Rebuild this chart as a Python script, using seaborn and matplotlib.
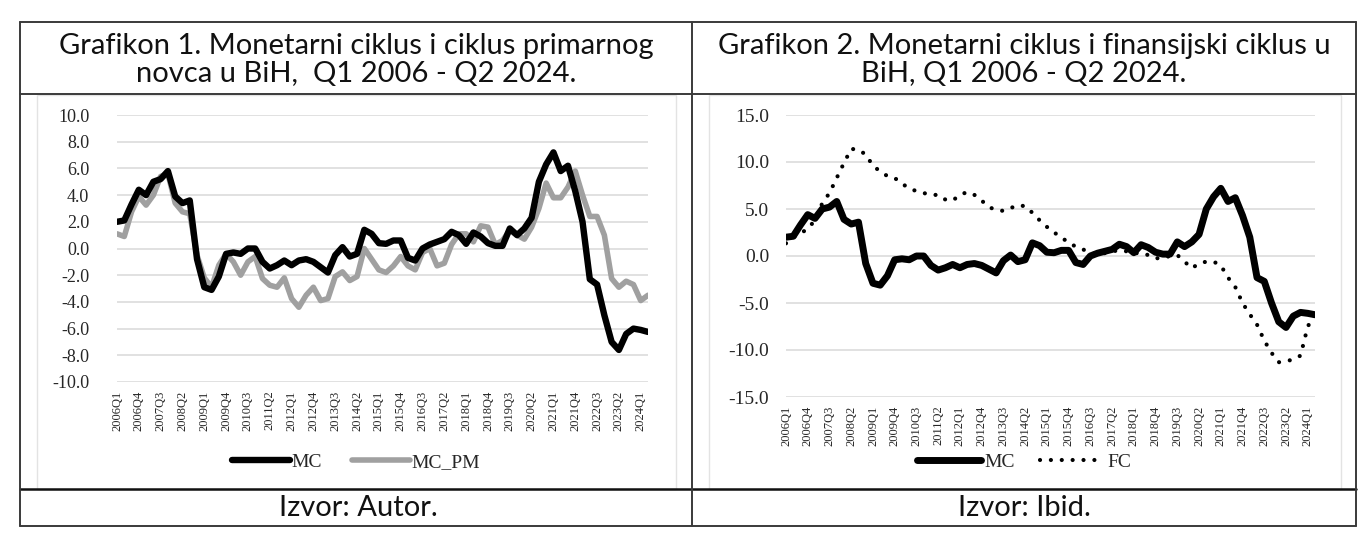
import matplotlib
matplotlib.use("Agg")
import matplotlib.pyplot as plt
import seaborn as sns
import numpy as np
import pandas as pd
from matplotlib.lines import Line2D
from matplotlib.patches import Rectangle

# ---------------- data ----------------
quarters = [f"{y}Q{q}" for y in range(2006, 2025) for q in range(1, 5)][:74]

mc = [2.0, 2.1, 3.3, 4.4, 4.0, 5.0, 5.2, 5.8, 3.9, 3.4, 3.6,
      -0.8, -2.9, -3.1, -2.1, -0.4, -0.3, -0.4, 0.0, 0.0,
      -1.0, -1.5, -1.25, -0.9, -1.25, -0.9, -0.8, -1.0, -1.4, -1.8,
      -0.5, 0.1, -0.6, -0.4, 1.4, 1.1, 0.4, 0.35, 0.6, 0.6,
      -0.7, -0.9, 0.0, 0.3, 0.5, 0.7, 1.25, 1.0, 0.35, 1.2,
      0.9, 0.4, 0.2, 0.2, 1.5, 1.0, 1.5, 2.3, 5.0, 6.3,
      7.2, 5.8, 6.2, 4.3, 2.0, -2.3, -2.7, -5.0, -7.0, -7.6,
      -6.4, -6.0, -6.1, -6.25]

mc_pm = [1.1, 0.9, 2.75, 3.9, 3.25, 4.0, 5.4, 5.6, 3.4, 2.75, 2.6,
         -0.5, -2.2, -2.9, -1.25, -0.4, -1.0, -2.0, -1.0, -0.6,
         -2.25, -2.75, -2.9, -2.2, -3.75, -4.4, -3.5, -2.9, -3.9, -3.75,
         -2.1, -1.75, -2.4, -2.1, 0.0, -0.8, -1.6, -1.8, -1.3, -0.6,
         -1.3, -1.6, -0.3, 0.0, -1.3, -1.1, 0.3, 1.1, 1.1, 0.5,
         1.7, 1.6, 0.3, 0.6, 1.35, 1.0, 0.7, 1.6, 3.0, 4.9,
         3.8, 3.8, 4.6, 5.8, 4.0, 2.4, 2.4, 1.0, -2.25, -2.9,
         -2.45, -2.7, -3.9, -3.5]

fc = [1.35, 2.0, 2.4, 2.9, 3.8, 5.6, 6.7, 8.3, 9.9, 11.4, 11.3,
      10.8, 9.6, 9.0, 8.5, 8.3, 7.7, 7.2, 6.9, 6.7,
      6.5, 6.5, 6.0, 5.9, 6.5, 6.8, 6.5, 5.9, 5.2, 4.9,
      4.8, 5.1, 5.4, 5.3, 4.6, 3.8, 3.1, 2.5, 2.0, 1.4,
      1.0, 0.7, 0.3, 0.2, 0.3, 0.5, 0.6, 0.5, 0.3, 0.3,
      0.1, -0.25, -0.2, 0.0, 0.1, -0.6, -1.3, -0.8, -0.6, -0.6,
      -1.0, -2.3, -3.3, -5.0, -6.2, -7.3, -9.0, -10.3, -11.3, -11.2,
      -11.0, -10.6, -7.5, -6.2]

tick_idx = list(range(0, 74, 3))
tick_labels = [quarters[i] for i in tick_idx]

left_title = "Grafikon 1. Monetarni ciklus i ciklus primarnog\nnovca u BiH,  Q1 2006 - Q2 2024."
right_title = "Grafikon 2. Monetarni ciklus i finansijski ciklus u\nBiH, Q1 2006 - Q2 2024."
left_source = "Izvor: Autor."
right_source = "Izvor: Ibid."

df = pd.DataFrame({"idx": np.arange(74), "MC": mc, "MC_PM": mc_pm, "FC": fc})

# ---------------- figure ----------------
sns.set_theme(style="white")
plt.rcParams["font.family"] = ["Liberation Serif", "DejaVu Serif"]

W, H = 1372, 541
fig = plt.figure(figsize=(W / 100, H / 100), dpi=100)
fig.patch.set_facecolor("white")


def fx(px):
    return px / W


def fy(py):
    return 1 - py / H


# inner chart frames (light grey)
for (x0, x1) in [(37, 676), (709, 1341)]:
    fig.add_artist(Rectangle((fx(x0), fy(489)), fx(x1) - fx(x0), fy(95) - fy(489),
                             transform=fig.transFigure, fill=False,
                             edgecolor="#e3e3e3", linewidth=1.0))

# table lines
lc = "#3a3a3a"
def hline(y, x0=20, x1=1356, lw=1.4, c=lc):
    fig.add_artist(Line2D([fx(x0), fx(x1)], [fy(y), fy(y)], transform=fig.transFigure,
                          color=c, linewidth=lw))
def vline(x, y0=22, y1=526, lw=1.4, c=lc):
    fig.add_artist(Line2D([fx(x), fx(x)], [fy(y0), fy(y1)], transform=fig.transFigure,
                          color=c, linewidth=lw))

hline(22)
hline(94)
hline(489, lw=1.8, c="#111111")
hline(526)
vline(20)
vline(1356)
vline(692)

# titles and sources
tfont = dict(family=["Lato", "DejaVu Sans"], fontsize=21, color="#111111",
             ha="center", va="center", linespacing=1.05)
fig.text(fx(356), fy(60), left_title, **tfont)
fig.text(fx(1024), fy(60), right_title, **tfont)
fig.text(fx(358), fy(508), left_source, **tfont)
fig.text(fx(1024), fy(508), right_source, **tfont)


def style_axes(ax, ylim, yticks, yfs):
    ax.set_xlim(0, 73)
    ax.set_ylim(*ylim)
    ax.set_yticks(yticks)
    ax.set_yticklabels([f"{v:.1f}" for v in yticks], fontsize=yfs, color="#262626")
    ax.set_xticks(tick_idx)
    ax.set_xticklabels(tick_labels, rotation=90, fontsize=9, color="#262626")
    ax.tick_params(axis="both", length=0)
    ax.tick_params(axis="x", pad=6)
    ax.grid(axis="y", color="#d9d9d9", linewidth=1.1)
    ax.grid(axis="x", visible=False)
    for s in ax.spines.values():
        s.set_visible(False)
    ax.set_xlabel("")
    ax.set_ylabel("")
    ax.set_axisbelow(True)
    ax.patch.set_alpha(0)


# ---- left chart ----
ax1 = fig.add_axes([fx(117), fy(382), fx(648) - fx(117), fy(115) - fy(382)])
sns.lineplot(data=df, x="idx", y="MC_PM", ax=ax1, color="#a0a0a0", linewidth=4.0,
             label="MC_PM", legend=False)
sns.lineplot(data=df, x="idx", y="MC", ax=ax1, color="#000000", linewidth=4.6,
             label="MC", legend=False)
for ln in ax1.lines:
    ln.set_solid_joinstyle("round")
    ln.set_solid_capstyle("round")
style_axes(ax1, (-10, 10), np.arange(-10, 10.1, 2), 13)
ax1.tick_params(axis="y", pad=20)
h = {ln.get_label(): ln for ln in ax1.lines}
leg1 = ax1.legend([h["MC"], h["MC_PM"]], ["MC", "MC_PM"], loc="center",
                  bbox_to_anchor=(fx(356), fy(462)), bbox_transform=fig.transFigure,
                  ncol=2, frameon=False, handlelength=3.0, handletextpad=0.1,
                  columnspacing=1.5, prop={"family": "Liberation Serif", "size": 14})

# ---- right chart ----
ax2 = fig.add_axes([fx(786), fy(397), fx(1315) - fx(786), fy(115) - fy(397)])
sns.lineplot(data=df, x="idx", y="FC", ax=ax2, color="#000000", linewidth=3.0,
             label="FC", legend=False)
sns.lineplot(data=df, x="idx", y="MC", ax=ax2, color="#000000", linewidth=5.0,
             label="MC", legend=False)
h2 = {ln.get_label(): ln for ln in ax2.lines}
h2["FC"].set_linestyle((0, (0.01, 2.6)))
h2["FC"].set_dash_capstyle("round")
h2["MC"].set_solid_joinstyle("round")
h2["MC"].set_solid_capstyle("round")
style_axes(ax2, (-15, 15), np.arange(-15, 15.1, 5), 14)
ax2.tick_params(axis="y", pad=12)
leg2 = ax2.legend([h2["MC"], h2["FC"]], ["MC", "FC"], loc="center",
                  bbox_to_anchor=(fx(1024), fy(462)), bbox_transform=fig.transFigure,
                  ncol=2, frameon=False, handlelength=3.3, handletextpad=0.15,
                  columnspacing=1.3, prop={"family": "Liberation Serif", "size": 14})

fig.savefig("out.png", dpi=100, facecolor="white")
